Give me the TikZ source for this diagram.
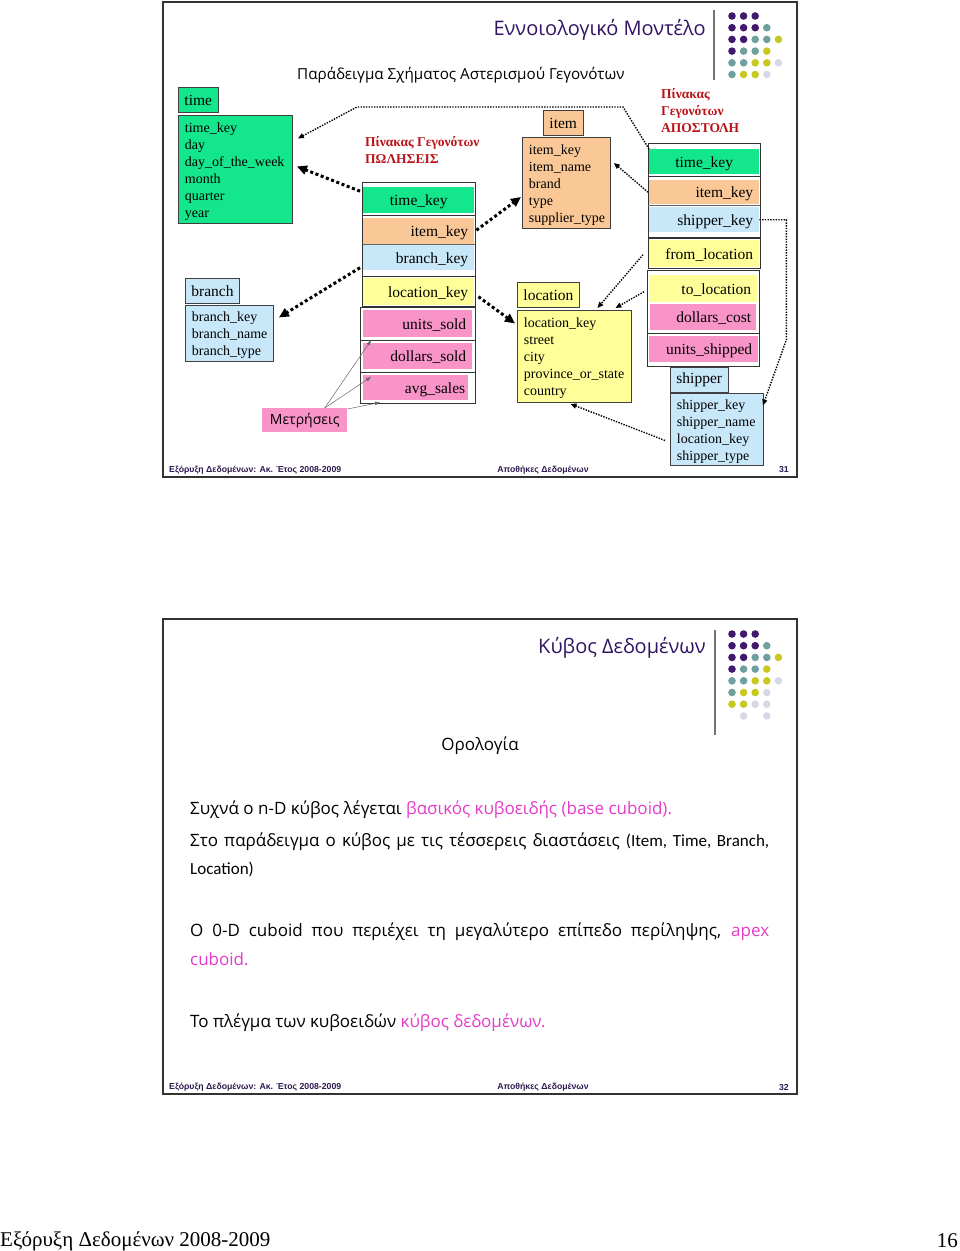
\documentclass[tikz,border=0pt]{standalone}
\usepackage{fontspec}
\setmainfont{Liberation Serif}
\newfontfamily\slidefont{Open Sans}
\newfontfamily\calfont{Carlito}
\newfontfamily\footfont{Liberation Sans}
\usetikzlibrary{arrows.meta, calc, positioning}

\definecolor{tgreen}{RGB}{20,230,140}
\definecolor{torange}{RGB}{250,200,150}
\definecolor{tblue}{RGB}{200,232,250}
\definecolor{tyellow}{RGB}{255,255,153}
\definecolor{tpink}{RGB}{248,148,200}
\definecolor{tred}{RGB}{185,20,25}
\definecolor{tpurple}{RGB}{50,20,100}
\definecolor{tmag}{RGB}{228,60,200}
\definecolor{tfoot}{RGB}{45,25,80}
\definecolor{dP}{RGB}{66,24,110}
\definecolor{dT}{RGB}{110,160,160}
\definecolor{dY}{RGB}{200,200,30}
\definecolor{dL}{RGB}{215,215,232}

\newcommand\fsz[2]{\fontsize{#1}{#2}\selectfont}

\begin{document}
\begin{tikzpicture}[x=1pt, y=-1pt,
		txt/.style={inner sep=0pt},
		frame/.style={draw=black!80, line width=2pt},
		dimhead/.style={draw=black!75, line width=0.9pt, fill=#1, anchor=north west, minimum height=25pt, inner xsep=6pt, inner ysep=0pt, font=\fsz{15.5}{18}},
		dimbody/.style={draw=black!75, line width=0.9pt, fill=#1, anchor=north west, align=left, inner xsep=6.5pt, inner ysep=0pt, font=\fsz{14}{17}, execute at begin node={\rule{0pt}{13.5pt}}},
		fkrow/.style={fill=#1, anchor=north west, inner xsep=6pt, inner ysep=0pt, align=right, text height=11pt, text depth=0pt, font=\fsz{15.5}{18}},
		fkframe/.style={draw=black!80, line width=1pt},
		fklabel/.style={txt, anchor=north west, align=left, text=tred, font=\bfseries\fsz{13.5}{17}},
		fkthick/.style={line width=3pt, dash pattern=on 3pt off 2.6pt, -{Triangle[length=10pt, width=9pt]}},
		fkthin/.style={line width=1.4pt, dash pattern=on 1.4pt off 1.3pt, -{Triangle[length=6pt, width=5pt]}},
		measarrow/.style={draw=black!60, line width=0.5pt, -{Triangle[length=5pt, width=3.5pt]}},
		slidetitle/.style={txt, anchor=east, yshift=-2pt, text=tpurple, font=\slidefont\fsz{20}{20}},
		bodyline/.style={txt, anchor=west, yshift=-2pt, font=\slidefont\fsz{17}{17}},
		foot/.style={txt, text=tfoot, font=\footfont\bfseries\fsz{8.7}{8.7}}
		]
		\useasboundingbox (0,0) rectangle (960,1251);
		
		% ----- Slide 31: star schema -----
		\draw[frame] (163,2) rectangle (797,477);
		\node[slidetitle] (title1) at (706,28) {Εννοιολογικό Μοντέλο};
		\draw[black!55, line width=1.2pt] (714,10) -- (714,80);
		\foreach \row [count=\r] in {{dP,dP,dP},{dP,dP,dP,dT},{dP,dP,dT,dT,dY},{dP,dT,dT,dY},{dT,dT,dY,dY,dL},{dT,dY,dY,dL}}
		\foreach \cl [count=\k] in \row {\fill[\cl] (720.4+11.6*\k, 4.3+11.7*\r) circle (3.8);}
		\node[txt, anchor=west, yshift=-2pt, font=\slidefont\fsz{15.2}{15.2}] (sub1) at (297,73) {Παράδειγμα Σχήματος Αστερισμού Γεγονότων};
		
		% Dimension tables
		\node[dimhead=tgreen] (time-head) at (178,87) {time};
		\node[dimbody=tgreen, minimum width=114pt, minimum height=108pt, text width=101pt] (time-body) at (178,115) {time\_key\\day\\day\_of\_the\_week\\month\\quarter\\year};
		
		\node[dimhead=tblue] (branch-head) at (185,278) {branch};
		\node[dimbody=tblue, minimum width=88pt, minimum height=56pt, text width=75pt] (branch-body) at (185,305) {branch\_key\\branch\_name\\branch\_type};
		
		\node[dimhead=torange] (item-head) at (543,110) {item};
		\node[dimbody=torange, minimum width=88pt, minimum height=91pt, text width=75pt] (item-body) at (522,137) {item\_key\\item\_name\\brand\\type\\supplier\_type};
		
		\node[dimhead=tyellow] (loc-head) at (517,282) {location};
		\node[dimbody=tyellow, minimum width=114pt, minimum height=92pt, text width=101pt] (loc-body) at (517,310) {location\_key\\street\\city\\province\_or\_state\\country};
		
		\node[dimhead=tblue] (ship-head) at (670,367) {shipper};
		\node[dimbody=tblue, minimum width=93pt, minimum height=72pt, text width=80pt] (ship-body) at (670,393) {shipper\_key\\shipper\_name\\location\_key\\shipper\_type};
		
		% Fact table: sales
		\node[fklabel] (s-label) at (365,136) {Πίνακας Γεγονότων\\ΠΩΛΗΣΕΙΣ};
		\node[fkrow=tgreen, minimum width=111pt, minimum height=26pt, text width=99pt, align=center] (s-time) at (363,187) {time\_key};
		\node[fkrow=torange, minimum width=111pt, minimum height=26pt, text width=99pt] (s-item) at (363,218) {item\_key};
		\node[fkrow=tblue, minimum width=111pt, minimum height=25pt, text width=99pt] (s-branch) at (363,245) {branch\_key};
		\draw[fkframe] (362,182) rectangle (475,276);
		\draw[fkframe] (362,215.5) -- (475,215.5);
		\draw[black!60, line width=0.6pt] (362,244.5) -- (475,244.5);
		\node[fkrow=tyellow, minimum width=111pt, minimum height=27pt, text width=99pt] (s-loc) at (363,278) {location\_key};
		\draw[fkframe] (362,276) rectangle (475,306);
		\node[fkrow=tpink, minimum width=109pt, minimum height=27pt, text width=97pt] (s-units) at (363,310) {units\_sold};
		\node[fkrow=tpink, minimum width=109pt, minimum height=26pt, text width=97pt] (s-dollars) at (363,343) {dollars\_sold};
		\node[fkrow=tpink, minimum width=105pt, minimum height=25pt, text width=99pt, inner xsep=3pt] (s-avg) at (363,375) {avg\_sales};
		\draw[fkframe] (360,307) rectangle (475,403);
		\draw[fkframe] (360,340) -- (475,340);
		\draw[fkframe] (360,372) -- (475,372);
		
		% Fact table: shipping
		\node[fklabel] (a-label) at (661,88) {Πίνακας\\Γεγονότων\\ΑΠΟΣΤΟΛΗ};
		\node[fkrow=tgreen, minimum width=110pt, minimum height=25pt, text width=98pt, align=center] (a-time) at (649,149) {time\_key};
		\node[fkrow=torange, minimum width=110pt, minimum height=24pt, text width=98pt] (a-item) at (649,180) {item\_key};
		\node[fkrow=tblue, minimum width=110pt, minimum height=25pt, text width=98pt] (a-ship) at (649,207) {shipper\_key};
		\draw[fkframe] (648,143) rectangle (760,237);
		\draw[fkframe] (648,176.5) -- (760,176.5);
		\draw[black!60, line width=0.6pt] (648,205.5) -- (760,205.5);
		\node[fkrow=tyellow, minimum width=110pt, minimum height=27pt, text width=98pt] (a-from) at (649,240) {from\_location};
		\draw[fkframe] (648,238) rectangle (760,268);
		\node[fkrow=tyellow, minimum width=108pt, minimum height=27pt, text width=96pt] (a-to) at (649,275) {to\_location};
		\node[fkrow=tpink, minimum width=106pt, minimum height=26pt, text width=96pt, inner xsep=5pt] (a-cost) at (650,304) {dollars\_cost};
		\node[fkrow=tpink, minimum width=109pt, minimum height=26pt, text width=97pt] (a-units) at (649,336) {units\_shipped};
		\draw[fkframe] (647,270) rectangle (759,366);
		\draw[fkframe] (647,333) -- (759,333);
		
		% Measures
		\node[fill=tpink, minimum width=85pt, minimum height=24pt, inner sep=0pt, anchor=north west, font=\slidefont\fsz{14}{14}] (meas) at (262,408) {Μετρήσεις};
		\draw[measarrow] ([xshift=20]meas.north) -- ([shift={(8,3)}]s-units.south west);
		\draw[measarrow] ([xshift=20]meas.north) -- ([shift={(8,2)}]s-avg.north west);
		\draw[measarrow] ([yshift=-1]meas.north east) -- ([shift={(17,2)}]s-avg.south west);
		
		% Foreign keys
		\draw[fkthick] ([shift={(-3,-9)}]s-time.west) -- ([shift={(4,-3)}]time-body.east);
		\draw[fkthick] ([shift={(2,-1)}]s-item.east) -- ([shift={(-1,14)}]item-body.west);
		\draw[fkthick] ([shift={(-3,10)}]s-branch.west) -- ([shift={(5,-16)}]branch-body.east);
		\draw[fkthick] ([shift={(4,5)}]s-loc.east) -- ([shift={(-2,-33)}]loc-body.west);
		\draw[fkthin] (a-time.north west) -- ++(-26,-42) -- ++(-266,0) -- ([shift={(5,-31)}]time-body.east);
		\draw[fkthin] ([xshift=-1]a-item.west) -- ([shift={(3,-20)}]item-body.east);
		\draw[fkthin] (a-ship.east) -- ++(27,0) -- ++(0,120) -- ([shift={(-1,-24)}]ship-body.east);
		\draw[fkthin] ([shift={(-6,1)}]a-from.west) -- ([shift={(23,-2)}]loc-body.north);
		\draw[fkthin] ([shift={(-5,3)}]a-to.west) -- ([shift={(41,-2)}]loc-body.north);
		\draw[fkthin] ([shift={(-5,11)}]ship-body.west) -- ([shift={(-4,1)}]loc-body.south);
		
		\node[foot, anchor=west] (foot1l) at (169,470) {Εξόρυξη Δεδομένων: Ακ. Έτος 2008-2009};
		\node[foot] (foot1c) at (543,470) {Αποθήκες Δεδομένων};
		\node[foot, anchor=east] (foot1r) at (789,470) {31};
		
		% ----- Slide 32: data cube -----
		\draw[frame] (163,619) rectangle (797,1094);
		\node[slidetitle] (title2) at (706,646) {Κύβος Δεδομένων};
		\draw[black!55, line width=1.2pt] (715,630) -- (715,735);
		\foreach \row [count=\r] in {{dP,dP,dP},{dP,dP,dP,dT},{dP,dP,dT,dT,dY},{dP,dT,dT,dY},{dT,dT,dY,dY,dL},{dT,dY,dY,dL},{dY,dY,dL,dL},{white,dL,white,dL}}
		\foreach \cl [count=\k] in \row {\fill[\cl] (720.4+11.6*\k, 622.3+11.7*\r) circle (3.8);}
		\node[txt, yshift=-2pt, font=\slidefont\fsz{17}{17}] (terms) at (480,744) {Ορολογία};
		
		\node[bodyline] (p1) at (190,808) {Συχνά ο n-D κύβος λέγεται \textcolor{tmag}{βασικός κυβοειδής (base cuboid).}};
		\node[bodyline] (p2a) at (190,840) {\makebox[579pt][s]{Στο παράδειγμα ο κύβος με τις τέσσερεις διαστάσεις {\calfont (Item, Time, Branch,}}};
		\node[bodyline] (p2b) at (190,867) {\calfont Location)};
		\node[bodyline] (p3a) at (190,930) {\makebox[579pt][s]{Ο 0-D cuboid που περιέχει τη μεγαλύτερο επίπεδο περίληψης, \textcolor{tmag}{apex}}};
		\node[bodyline, text=tmag] (p3b) at (190,957) {cuboid.};
		\node[bodyline] (p4) at (190,1021) {Το πλέγμα των κυβοειδών \textcolor{tmag}{κύβος δεδομένων.}};
		
		\node[foot, anchor=west] (foot2l) at (169,1087) {Εξόρυξη Δεδομένων: Ακ. Έτος 2008-2009};
		\node[foot] (foot2c) at (543,1087) {Αποθήκες Δεδομένων};
		\node[foot, anchor=east] (foot2r) at (789,1087) {32};
		
		% ----- Page footer -----
		\node[txt, anchor=west, yshift=-2pt, font=\fsz{21}{21}] (page-l) at (0,1239) {Εξόρυξη Δεδομένων 2008-2009};
		\node[txt, anchor=east, yshift=-2pt, font=\fsz{21}{21}] (page-r) at (958,1239) {16};
		
	\end{tikzpicture}
\end{document}
